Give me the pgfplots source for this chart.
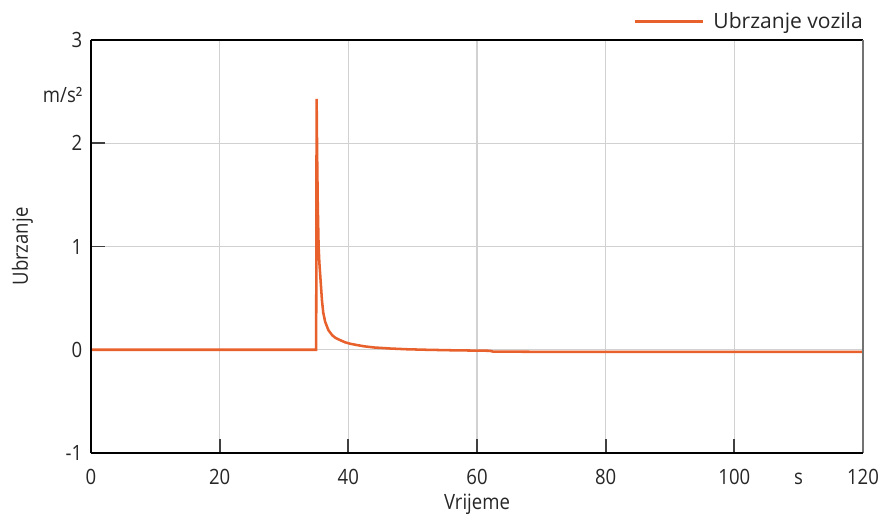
\documentclass[border=0pt]{standalone}
\usepackage{fontspec}
\setmainfont{Open Sans}[FakeStretch=0.88]
\newfontfamily\legfont{Open Sans}
\usepackage{pgfplots}
\pgfplotsset{compat=1.18}
\definecolor{accorange}{HTML}{E8602C}
\newcommand{\lblfont}{\fontsize{15.8}{18}\selectfont}
\begin{document}
\begin{tikzpicture}
\begin{axis}[
  scale only axis,
  width=579pt, height=309.75pt,
  xmin=0, xmax=120, ymin=-1, ymax=3,
  xtick={0,20,40,60,80,100,120},
  ytick={-1,0,1,2,3},
  axis line style={draw=none},
  grid=major,
  major grid style={draw=black!18, line width=0.8pt},
  tick pos=left,
  major tick length=0pt,
  /pgf/number format/assume math mode=true,
  ticklabel style={font=\lblfont, text=black!85},
  yticklabel style={xshift=-3pt},
  xticklabel style={anchor=base, yshift=-23.25pt},
  clip=false,
  legend style={at={(rel axis cs:1,1)}, anchor=south east, draw=none, fill=none,
    font=\legfont\lblfont, text=black!85, yshift=3pt, xshift=5pt,
    /tikz/every odd column/.append style={column sep=5pt}},
  legend image code/.code={\draw[#1] (0pt,0pt) -- (51pt,0pt);},
  legend cell align=left,
]
\addplot[accorange, line width=1.9pt] coordinates {
(0,0) (35.0,0) (35.07,2.43) (35.15,1.90) (35.25,1.40) (35.38,1.00)
(35.5,0.84) (35.7,0.66) (35.9,0.48) (36.1,0.36) (36.4,0.27) (36.9,0.19)
(37.5,0.14) (38.0,0.115) (38.7,0.094) (39.5,0.072) (40.3,0.058) (41.3,0.046)
(42.5,0.033) (44,0.022) (46.5,0.012) (49,0.005) (52,0.0) (56,-0.005)
(62,-0.01) (62.5,-0.018) (70,-0.02) (120,-0.02)
};
\addlegendentry{Ubrzanje vozila}
\draw[black!75, line width=1.3pt] (axis cs:20,-1) -- ++(0pt,10.5pt);
\draw[black!75, line width=1.3pt] (axis cs:40,-1) -- ++(0pt,10.5pt);
\draw[black!75, line width=1.3pt] (axis cs:60,-1) -- ++(0pt,10.5pt);
\draw[black!75, line width=1.3pt] (axis cs:80,-1) -- ++(0pt,10.5pt);
\draw[black!75, line width=1.3pt] (axis cs:100,-1) -- ++(0pt,10.5pt);
\draw[black!75, line width=1.3pt] (axis cs:0,1) -- ++(10.5pt,0pt);
\draw[black!75, line width=1.3pt] (axis cs:0,2) -- ++(10.5pt,0pt);
\draw[black, line width=1pt] (rel axis cs:0,1) -- (rel axis cs:1,1);
\draw[black!55, line width=1.2pt] (rel axis cs:1,0) -- (rel axis cs:1,1);
\draw[black, line width=1.2pt] (rel axis cs:0,0) -- (rel axis cs:1,0);
\draw[black, line width=1.5pt] (rel axis cs:0,0) -- (rel axis cs:0,1);
\node[anchor=east, font=\lblfont, text=black!85] at (axis cs:0,2.47) [xshift=-3pt] {m/s²};
\node[anchor=base, font=\lblfont, text=black!85] at (axis cs:110,-1) [yshift=-23.25pt] {s};
\node[anchor=base, font=\lblfont, text=black!85] at (rel axis cs:0.5,0) [yshift=-42pt] {Vrijeme};
\node[rotate=90, anchor=center, font=\lblfont, text=black!85] at (rel axis cs:0,0.5) [yshift=51.5pt] {Ubrzanje};
\end{axis}
\pgfresetboundingbox
\useasboundingbox (-68.25pt,-46.5pt) rectangle (594pt,339.75pt);
\end{tikzpicture}
\end{document}
